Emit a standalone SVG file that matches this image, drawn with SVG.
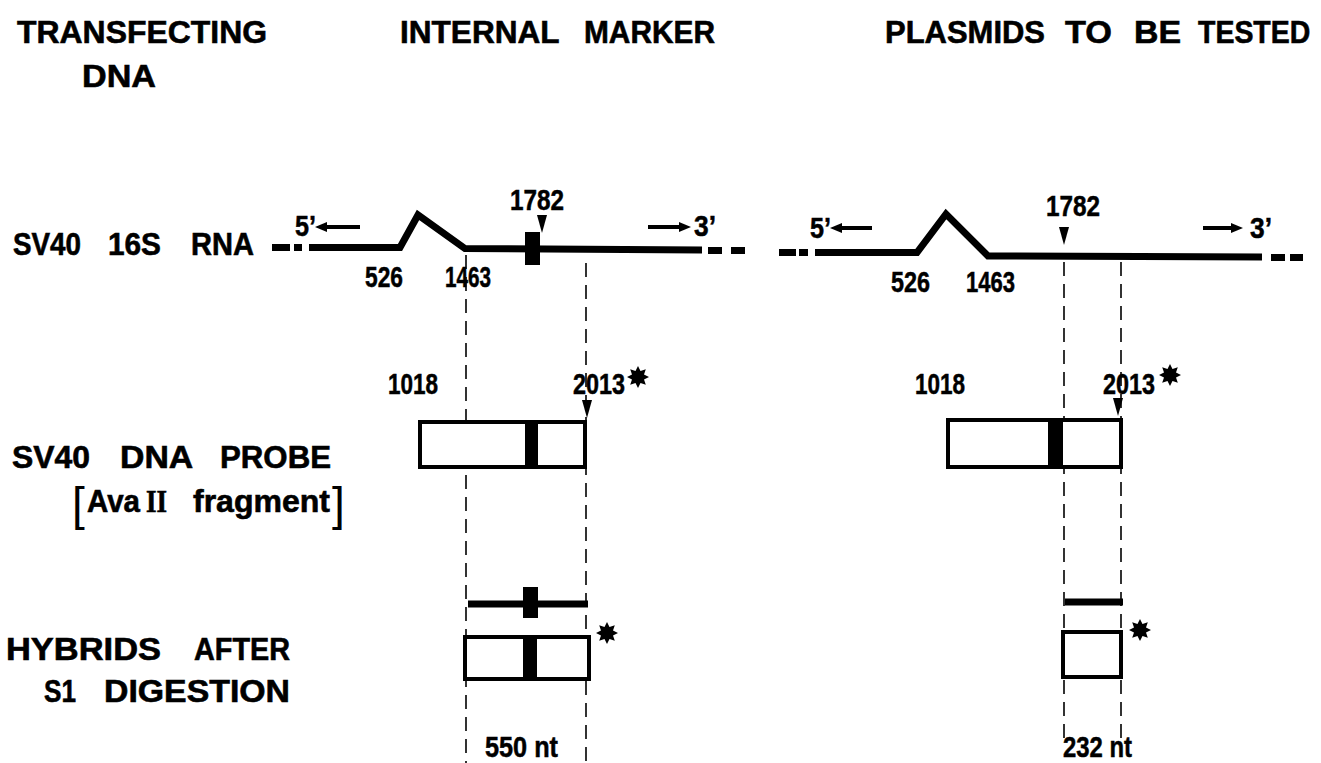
<svg xmlns="http://www.w3.org/2000/svg" width="1321" height="763" viewBox="0 0 1321 763">
<style>
.h{font-family:"Liberation Sans",Arial,sans-serif;font-weight:bold;font-size:32px;fill:#000;stroke:#000;stroke-width:0.6}
.r{font-family:"Liberation Sans",Arial,sans-serif;font-weight:bold;font-size:31px;fill:#000;stroke:#000;stroke-width:0.6}
.n{font-family:"Liberation Sans",Arial,sans-serif;font-weight:bold;font-size:29px;fill:#000;stroke:#000;stroke-width:0.5}
.br{font-family:"Liberation Sans",Arial,sans-serif;font-weight:normal;font-size:46px;fill:#000}
.rna{fill:none;stroke:#000;stroke-width:7;stroke-linejoin:miter}
.dash{fill:#000}
.box{fill:#fff;stroke:#000;stroke-width:4}
.bar{fill:#000}
.guide{stroke:#000;stroke-width:1.6;stroke-dasharray:14 8;fill:none}
.arr{stroke:#000;stroke-width:4;fill:none}
</style>
<defs>
<polygon id="star" points="0,-11 2.5,-6 7.8,-7.8 6,-2.5 11,0 6,2.5 7.8,7.8 2.5,6 0,11 -2.5,6 -7.8,7.8 -6,2.5 -11,0 -6,-2.5 -7.8,-7.8 -2.5,-6" fill="#000"/>
<polygon id="tri" points="-5,0 5,0 0,18" fill="#000"/>
<polygon id="headR" points="0,-5 12,0 0,5" fill="#000"/>
<polygon id="headL" points="0,-5 -12,0 0,5" fill="#000"/>
</defs>
<rect width="1321" height="763" fill="#fff"/>

<g id="headers">
<text class="h" x="17" y="43" textLength="250" lengthAdjust="spacingAndGlyphs">TRANSFECTING</text>
<text class="h" x="82" y="87" textLength="74" lengthAdjust="spacingAndGlyphs">DNA</text>
<text class="h" y="43"><tspan x="400" textLength="159" lengthAdjust="spacingAndGlyphs">INTERNAL</tspan> <tspan x="584" textLength="131" lengthAdjust="spacingAndGlyphs">MARKER</tspan></text>
<text class="h" y="43"><tspan x="885" textLength="160" lengthAdjust="spacingAndGlyphs">PLASMIDS</tspan> <tspan x="1065" textLength="47" lengthAdjust="spacingAndGlyphs">TO</tspan> <tspan x="1134" textLength="47" lengthAdjust="spacingAndGlyphs">BE</tspan></text>
<text class="h" transform="translate(1198,43) scale(0.89,1)">TESTED</text>
</g>

<g id="row-labels">
<text class="r" y="255"><tspan x="13" textLength="68" lengthAdjust="spacingAndGlyphs">SV40</tspan> <tspan x="108" textLength="53" lengthAdjust="spacingAndGlyphs">16S</tspan> <tspan x="191" textLength="63" lengthAdjust="spacingAndGlyphs">RNA</tspan></text>
<text class="r" y="468"><tspan x="12" textLength="78" lengthAdjust="spacingAndGlyphs">SV40</tspan> <tspan x="120" textLength="72" lengthAdjust="spacingAndGlyphs">DNA</tspan> <tspan x="220" textLength="111" lengthAdjust="spacingAndGlyphs">PROBE</tspan></text>
<text class="br" x="72" y="520">[</text>
<text class="r" y="512"><tspan x="87" textLength="53" lengthAdjust="spacingAndGlyphs">Ava</tspan><tspan x="146" font-family="Liberation Serif, serif" textLength="21" lengthAdjust="spacingAndGlyphs">II</tspan> <tspan x="193" textLength="137" lengthAdjust="spacingAndGlyphs">fragment</tspan></text>
<text class="br" x="332" y="520">]</text>
<text class="r" y="660"><tspan x="6" textLength="155" lengthAdjust="spacingAndGlyphs">HYBRIDS</tspan> <tspan x="194" textLength="96" lengthAdjust="spacingAndGlyphs">AFTER</tspan></text>
<text class="r" y="702"><tspan x="44" textLength="32" lengthAdjust="spacingAndGlyphs">S1</tspan> <tspan x="104" textLength="186" lengthAdjust="spacingAndGlyphs">DIGESTION</tspan></text>
</g>

<g id="connectors">
<line class="guide" x1="466" y1="255" x2="466" y2="763"/>
<line class="guide" x1="586" y1="263" x2="586" y2="763"/>
<line class="guide" x1="1064" y1="262" x2="1064" y2="738"/>
<line class="guide" x1="1121" y1="262" x2="1121" y2="738"/>
</g>

<g id="rna-left">
<rect class="dash" x="272" y="244" width="18" height="7"/>
<rect class="dash" x="294" y="244" width="8" height="7"/>
<polyline class="rna" points="309,247.5 400,247.5 418,215 465,248.5 702,250"/>
<rect class="dash" x="708" y="247" width="14" height="7"/>
<rect class="dash" x="731" y="247" width="14" height="7"/>
<rect class="bar" x="525" y="232" width="15" height="33"/>
<use href="#tri" x="542" y="215"/>
<text class="n" x="510" y="210" textLength="54" lengthAdjust="spacingAndGlyphs">1782</text>
<text class="n" x="295" y="236" textLength="21" lengthAdjust="spacingAndGlyphs">5’</text>
<line class="arr" x1="360" y1="227" x2="325" y2="227"/>
<use href="#headL" x="327" y="227"/>
<line class="arr" x1="648" y1="227" x2="681" y2="227"/>
<use href="#headR" x="679" y="227"/>
<text class="n" x="694" y="236" textLength="22" lengthAdjust="spacingAndGlyphs">3’</text>
<text class="n" x="365" y="287" textLength="38" lengthAdjust="spacingAndGlyphs">526</text>
<text class="n" x="445" y="287" textLength="46" lengthAdjust="spacingAndGlyphs">1463</text>
</g>

<g id="rna-right">
<rect class="dash" x="779" y="249" width="17" height="7"/>
<rect class="dash" x="799" y="249" width="9" height="7"/>
<polyline class="rna" points="815,252.5 917,252.5 946,214 988,256 1262,257"/>
<rect class="dash" x="1271" y="254" width="14" height="7"/>
<rect class="dash" x="1290" y="254" width="13" height="7"/>
<use href="#tri" x="1064" y="227"/>
<text class="n" x="1046" y="216" textLength="54" lengthAdjust="spacingAndGlyphs">1782</text>
<text class="n" x="810" y="238" textLength="21" lengthAdjust="spacingAndGlyphs">5’</text>
<line class="arr" x1="872" y1="228" x2="840" y2="228"/>
<use href="#headL" x="842" y="228"/>
<line class="arr" x1="1203" y1="228" x2="1233" y2="228"/>
<use href="#headR" x="1231" y="228"/>
<text class="n" x="1250" y="238" textLength="22" lengthAdjust="spacingAndGlyphs">3’</text>
<text class="n" x="891" y="292" textLength="39" lengthAdjust="spacingAndGlyphs">526</text>
<text class="n" x="966" y="292" textLength="49" lengthAdjust="spacingAndGlyphs">1463</text>
</g>

<g id="probe-left">
<rect class="box" x="420" y="422" width="165" height="45"/>
<rect class="bar" x="525" y="422" width="13" height="45"/>
<use href="#tri" x="587" y="400"/>
<text class="n" x="388" y="394" textLength="50" lengthAdjust="spacingAndGlyphs">1018</text>
<text class="n" x="573" y="394" textLength="52" lengthAdjust="spacingAndGlyphs">2013</text>
<use href="#star" x="638" y="377"/>
</g>

<g id="probe-right">
<rect class="box" x="948" y="420" width="173" height="47"/>
<rect class="bar" x="1048" y="420" width="15" height="47"/>
<use href="#tri" x="1118" y="398"/>
<text class="n" x="915" y="394" textLength="50" lengthAdjust="spacingAndGlyphs">1018</text>
<text class="n" x="1103" y="394" textLength="52" lengthAdjust="spacingAndGlyphs">2013</text>
<use href="#star" x="1170" y="375"/>
</g>

<g id="hybrid-left">
<line x1="468" y1="604" x2="588" y2="604" stroke="#000" stroke-width="7"/>
<rect class="bar" x="523" y="587" width="15" height="31"/>
<rect class="box" x="465" y="637" width="124" height="42"/>
<rect class="bar" x="523" y="637" width="14" height="42"/>
<use href="#star" x="607" y="633"/>
<text class="n" x="485" y="757" textLength="73" lengthAdjust="spacingAndGlyphs">550 nt</text>
</g>

<g id="hybrid-right">
<line x1="1065" y1="602" x2="1123" y2="602" stroke="#000" stroke-width="7"/>
<rect class="box" x="1063" y="632" width="58" height="45"/>
<use href="#star" x="1140" y="630"/>
<text class="n" x="1063" y="757" textLength="69" lengthAdjust="spacingAndGlyphs">232 nt</text>
</g>
</svg>
